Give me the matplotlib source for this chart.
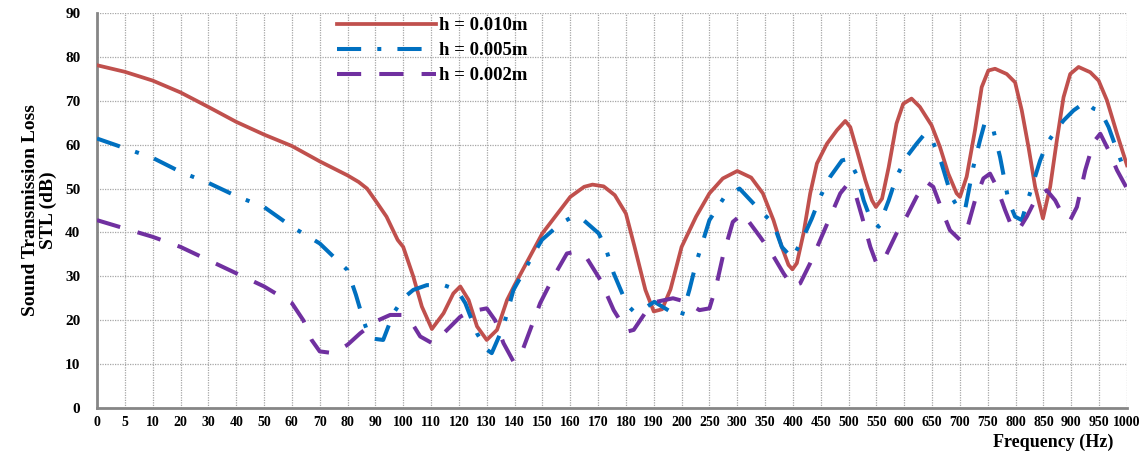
import numpy as np
import matplotlib
matplotlib.use("Agg")
import matplotlib.pyplot as plt

# category ticks on the frequency axis (evenly spaced in the original chart)
tick_freqs = [0, 5, 10, 20, 30, 40, 50, 60, 70, 80, 90, 100, 110, 120, 130, 140, 150,
              160, 170, 180, 190, 200, 250, 300, 350, 400, 450, 500, 550, 600, 650,
              700, 750, 800, 850, 900, 950, 1000]

# h = 0.010m
f_010 = [0, 5, 10, 20, 30, 40, 50, 60, 70, 80, 84, 87, 90, 94, 98, 100, 103.6, 106.7, 110.3,
         114.5, 118, 120.5, 123.5, 126.5, 130, 133.7, 137.3, 140, 150, 160, 165, 168, 172,
         176, 180, 183, 187, 190, 193, 196, 200, 226, 250, 274, 300, 325, 346, 365, 380,
         392, 399, 407, 419, 431, 443, 461, 479, 494, 503, 515, 530, 542, 549, 560, 572,
         586, 598, 613, 628, 649, 664, 679, 694, 700, 712, 727, 739, 751, 763, 784, 799,
         811, 823, 835, 849, 862, 874, 886, 898, 913, 934, 949, 964, 982, 1000]
stl_010 = [78.1, 76.6, 74.6, 71.9, 68.6, 65.2, 62.3, 59.7, 56.2, 53.0, 51.5, 50.0, 47.3, 43.6,
           38.3, 36.7, 30.0, 23.1, 18.0, 21.6, 26.1, 27.7, 24.6, 18.6, 15.5, 17.8, 24.6,
           28.0, 39.8, 48.1, 50.4, 50.9, 50.5, 48.5, 44.3, 37.0, 26.9, 22.0, 22.5, 27.0,
           36.7, 43.6, 48.9, 52.3, 54.0, 52.5, 48.9, 42.8, 36.7, 32.6, 31.6, 33.0, 39.8,
           48.9, 55.7, 60.2, 63.3, 65.4, 64.0, 58.7, 51.9, 47.3, 45.8, 47.7, 54.9, 64.8,
           69.3, 70.5, 68.6, 64.4, 59.5, 53.4, 48.9, 48.1, 52.7, 63.3, 73.1, 76.9, 77.3,
           76.1, 74.2, 67.8, 59.5, 50.4, 43.2, 50.4, 61.0, 70.8, 76.1, 77.7, 76.5, 74.6,
           70.1, 62.5, 55.3]

# h = 0.005m
f_005 = [0, 5, 10, 20, 30, 40, 50, 60, 70, 80, 83, 85.7, 88, 92.8, 96.5, 100, 103.6, 108.5,
         115, 119.3, 122.3, 126.5, 130, 131.8, 136, 139.6, 145.6, 149.8, 156.4, 161.2, 164.8,
         170.2, 172.6, 175.6, 180.4, 182.8, 187.6, 190.2, 195.9, 200, 214, 226, 250, 277,
         304, 341, 365, 380, 399, 419, 434, 449, 467, 488, 500, 515, 527, 539, 554, 572,
         586, 604, 622, 637, 649, 667, 685, 699, 709, 724, 736, 745, 760, 772, 787, 799,
         811, 820, 844, 856, 868, 886, 904, 925, 940, 952, 967, 982, 1000]
stl_005 = [61.4, 59.2, 57.0, 53.8, 51.3, 48.3, 45.8, 41.3, 37.5, 31.4, 25.8, 20.0, 15.9,
           15.5, 21.6, 25.0, 26.9, 28.0, 27.9, 26.9, 23.9, 17.0, 13.3, 12.5, 18.6, 26.9,
           33.7, 38.3, 42.0, 43.7, 42.8, 39.8, 36.7, 30.7, 23.5, 22.0, 23.1, 24.2, 22.0,
           20.8, 26.9, 33.0, 42.8, 48.1, 50.0, 45.0, 42.0, 36.7, 34.1, 39.0, 43.2, 48.1,
           52.7, 56.4, 56.8, 53.0, 47.3, 43.2, 41.3, 47.3, 52.7, 57.2, 60.2, 62.5, 61.4,
           55.7, 48.1, 45.1, 45.1, 54.9, 61.0, 65.2, 63.3, 57.2, 47.3, 43.6, 42.8, 46.6,
           56.4, 60.2, 62.5, 65.5, 67.8, 69.7, 68.2, 67.8, 64.0, 58.7, 52.7]

# h = 0.002m
f_002 = [0, 5, 10, 20, 30, 40, 50, 60, 64.1, 67.1, 70, 74.9, 80, 84.5, 90, 95.3, 100, 102.5,
         106.1, 110.3, 114.5, 120.5, 124.1, 130, 133, 136, 139.6, 142, 145.6, 149.2, 154,
         158.8, 161.8, 166, 170.8, 175.6, 180.4, 182.8, 187.6, 191, 196.9, 208, 232, 250,
         262, 274, 292, 310, 341, 362, 383, 399, 413, 431, 449, 467, 485, 497, 512, 524,
         539, 551, 566, 586, 604, 622, 640, 652, 670, 682, 700, 712, 727, 742, 754, 766,
         781, 793, 805, 820, 838, 856, 871, 886, 898, 910, 925, 940, 952, 967, 982, 1000]
stl_002 = [42.8, 40.9, 39.0, 36.7, 33.7, 30.7, 27.7, 23.9, 20.0, 15.5, 12.9, 12.5, 14.4,
           17.0, 19.7, 21.2, 21.2, 20.0, 16.3, 14.8, 17.0, 20.8, 22.0, 22.7, 20.0, 14.8,
           10.6, 11.7, 17.8, 23.9, 29.9, 35.2, 35.6, 34.1, 29.2, 22.3, 17.4, 17.8, 22.3,
           24.2, 25.0, 24.2, 22.3, 22.7, 27.7, 34.5, 42.4, 44.3, 39.0, 35.2, 30.7, 27.7,
           28.4, 33.0, 38.3, 43.6, 48.9, 50.8, 48.9, 43.6, 36.7, 32.6, 34.5, 39.8, 43.6,
           48.1, 51.5, 50.4, 44.3, 40.5, 38.3, 40.5, 47.3, 52.3, 53.4, 50.4, 45.1, 41.3,
           40.5, 43.6, 48.1, 49.6, 47.3, 43.6, 42.8, 45.8, 54.2, 60.6, 62.5, 58.7, 54.2, 50.0]

series_labels = ["h = 0.010m", "h = 0.005m", "h = 0.002m"]

serif = ["Liberation Serif", "DejaVu Serif"]
plt.rcParams['font.family'] = serif
plt.rcParams['font.weight'] = 'bold'

idx = np.arange(len(tick_freqs))


def fwd(f):
    return np.interp(f, tick_freqs, idx)


def inv(i):
    return np.interp(i, idx, tick_freqs)


fig = plt.figure(figsize=(11.43, 4.53), dpi=100)
ax = fig.add_axes([97 / 1143, 45 / 453, 1030 / 1143, 395 / 453])
ax.set_xscale('function', functions=(fwd, inv))

ax.plot(f_010, stl_010, color='#C0504D', lw=2.7, solid_joinstyle='round',
        label=series_labels[0], zorder=3)
ax.plot(f_005, stl_005, color='#0070C0', lw=2.9, linestyle=(0, (6, 4, 1, 4)),
        dash_capstyle='butt', label=series_labels[1], zorder=4)
ax.plot(f_002, stl_002, color='#7030A0', lw=2.9, linestyle=(0, (6, 4.5)),
        dash_capstyle='butt', label=series_labels[2], zorder=4)

ax.set_xlim(0, 1000)
ax.set_ylim(0, 90)
ax.set_xticks(tick_freqs)
ax.set_xticklabels([str(t) for t in tick_freqs])
ax.set_yticks(np.arange(0, 91, 10))
ax.tick_params(axis='x', length=0, pad=6, labelsize=10)
ax.tick_params(axis='y', length=0, pad=12, labelsize=11)
for lab in ax.get_xticklabels() + ax.get_yticklabels():
    lab.set_fontweight('bold')

ax.grid(True, color='#a6a6a6', linestyle=(0, (1, 1)), linewidth=0.9, zorder=0)
ax.set_axisbelow(True)
for s in ['top', 'right']:
    ax.spines[s].set_visible(False)
for s in ['left', 'bottom']:
    ax.spines[s].set_color('#868686')
    ax.spines[s].set_linewidth(2)

ax.set_ylabel("Sound Transmission Loss\nSTL (dB)", fontsize=14, fontweight='bold',
              labelpad=6, linespacing=1.05)
ax.text(0.928, -0.086, "Frequency (Hz)", transform=ax.transAxes, ha='center', va='center',
        fontsize=13, fontweight='bold')

ax.legend(loc='upper left', bbox_to_anchor=(0.233, 0.99), frameon=False, borderpad=0,
          borderaxespad=0, handlelength=5.3, handletextpad=0.15, labelspacing=0.42,
          prop={'family': serif, 'weight': 'bold', 'size': 13.5})

fig.savefig("out.png", dpi=100)
